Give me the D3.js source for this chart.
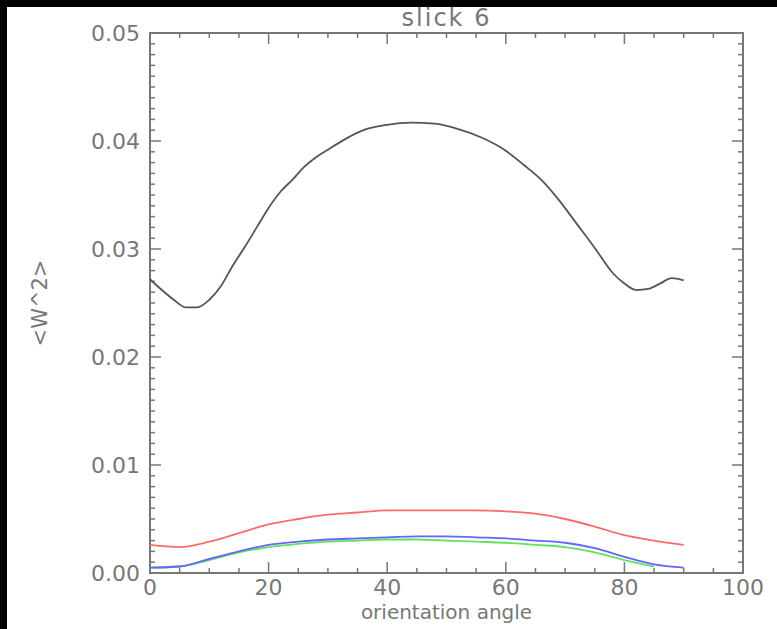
<!DOCTYPE html>
<html>
<head>
<meta charset="utf-8">
<script src="https://cdn.jsdelivr.net/npm/d3@7"></script>
<style>
  body { margin: 0; background: #000; }
  svg { display: block; }
</style>
</head>
<body>
<div class="chart"></div>
<script>
// chart values
const blackAngles = [0, 2, 4, 6, 8, 10, 12, 14, 16, 18, 20, 22, 24, 26, 28, 30, 33, 36, 40, 44, 48, 52, 56, 60, 63, 66, 69, 72, 75, 78, 80, 82, 84, 86, 88, 90];
const blackValues = [0.0272, 0.0262, 0.0253, 0.0246, 0.0246, 0.0253, 0.0266, 0.0285, 0.0302, 0.0320, 0.0338, 0.0353, 0.0364, 0.0376, 0.0385, 0.0392, 0.0402, 0.0410, 0.0415, 0.0417, 0.0416, 0.0411, 0.0403, 0.0391, 0.0378, 0.0364, 0.0345, 0.0323, 0.0301, 0.0278, 0.0268, 0.0262, 0.0263, 0.0268, 0.0273, 0.0271];

const angles = [0, 5, 10, 15, 20, 25, 30, 35, 40, 45, 50, 55, 60, 65, 70, 75, 80, 85, 90];
const redValues = [0.0026, 0.0024, 0.0029, 0.0037, 0.0045, 0.0050, 0.0054, 0.0056, 0.0058, 0.0058, 0.0058, 0.0058, 0.0057, 0.0055, 0.0050, 0.0043, 0.0035, 0.0030, 0.0026];
const blueValues = [0.0005, 0.0006, 0.0013, 0.0020, 0.0026, 0.0029, 0.0031, 0.0032, 0.0033, 0.0034, 0.0034, 0.0033, 0.0032, 0.0030, 0.0028, 0.0023, 0.0015, 0.0008, 0.0005];
const greenAngles = [0, 5, 10, 15, 20, 25, 30, 35, 40, 45, 50, 55, 60, 65, 70, 75, 80, 85];
const greenValues = [0.0005, 0.0006, 0.0012, 0.0019, 0.0024, 0.0027, 0.0029, 0.0030, 0.0031, 0.0031, 0.0030, 0.0029, 0.0028, 0.0026, 0.0024, 0.0019, 0.0012, 0.0006];

const xTicks = [0, 20, 40, 60, 80, 100];
const yTicks = [0, 0.01, 0.02, 0.03, 0.04, 0.05];

const W = 777, H = 629;
const margin = { top: 33, right: 34, bottom: 56, left: 150 };
const width = W - margin.left - margin.right;
const height = H - margin.top - margin.bottom;
const axisColor = "#777";
const font = "DejaVu Sans, sans-serif";

const svg = d3.select(".chart").append("svg")
    .attr("width", W)
    .attr("height", H);

// white page with black strips on top and left
svg.append("rect").attr("x", 7).attr("y", 7).attr("width", W - 7).attr("height", H - 7).attr("fill", "#fff");

const g = svg.append("g").attr("transform", `translate(${margin.left},${margin.top})`);

const x = d3.scaleLinear().domain([0, 100]).range([0, width]);
const y = d3.scaleLinear().domain([0, 0.05]).range([height, 0]);

// frame
g.append("rect")
    .attr("width", width).attr("height", height)
    .attr("fill", "none").attr("stroke", axisColor).attr("stroke-width", 2);

// ticks (inward on all four sides)
const xMinor = d3.range(0, 101, 5);
const yMinor = d3.range(0, 51, 1).map(d => d / 1000);

function isMajorX(d) { return d % 20 === 0; }
function isMajorY(d) { return Math.round(d * 1000) % 10 === 0; }

g.selectAll(".xtick-b").data(xMinor).enter().append("line")
    .attr("x1", d => x(d)).attr("x2", d => x(d))
    .attr("y1", height).attr("y2", d => height - (isMajorX(d) ? 11 : 5))
    .attr("stroke", axisColor).attr("stroke-width", 1.5);
g.selectAll(".xtick-t").data(xMinor).enter().append("line")
    .attr("x1", d => x(d)).attr("x2", d => x(d))
    .attr("y1", 0).attr("y2", d => isMajorX(d) ? 11 : 5)
    .attr("stroke", axisColor).attr("stroke-width", 1.5);
g.selectAll(".ytick-l").data(yMinor).enter().append("line")
    .attr("y1", d => y(d)).attr("y2", d => y(d))
    .attr("x1", 0).attr("x2", d => isMajorY(d) ? 11 : 5)
    .attr("stroke", axisColor).attr("stroke-width", 1.5);
g.selectAll(".ytick-r").data(yMinor).enter().append("line")
    .attr("y1", d => y(d)).attr("y2", d => y(d))
    .attr("x1", width).attr("x2", d => width - (isMajorY(d) ? 11 : 5))
    .attr("stroke", axisColor).attr("stroke-width", 1.5);

// tick labels
g.selectAll(".xlabel").data(xTicks).enter().append("text")
    .attr("x", d => x(d)).attr("y", height + 22)
    .attr("text-anchor", "middle")
    .attr("font-family", font).attr("font-size", 22).attr("fill", axisColor)
    .text(d => d);
g.selectAll(".ylabel").data(yTicks).enter().append("text")
    .attr("x", -10).attr("y", d => y(d) + 8)
    .attr("text-anchor", "end")
    .attr("font-family", font).attr("font-size", 22).attr("fill", axisColor)
    .text(d => d.toFixed(2));

// titles
svg.append("text")
    .attr("x", margin.left + width / 2).attr("y", 26)
    .attr("text-anchor", "middle")
    .attr("font-family", font).attr("font-size", 24).attr("letter-spacing", 2)
    .attr("fill", axisColor)
    .text("slick 6");
svg.append("text")
    .attr("x", margin.left + width / 2).attr("y", 619)
    .attr("text-anchor", "middle")
    .attr("font-family", font).attr("font-size", 20).attr("fill", axisColor)
    .text("orientation angle");
svg.append("text")
    .attr("transform", `translate(47,${margin.top + height / 2}) rotate(-90)`)
    .attr("text-anchor", "middle")
    .attr("font-family", font).attr("font-size", 21).attr("fill", axisColor)
    .text("<W^2>");

// curves
const line = d3.line().x(d => x(d[0])).y(d => y(d[1])).curve(d3.curveMonotoneX);

const series = [
    { a: angles, v: redValues, color: "#ff6b6b" },
    { a: greenAngles, v: greenValues, color: "#5fe35f" },
    { a: angles, v: blueValues, color: "#6464ff" },
    { a: blackAngles, v: blackValues, color: "#555" }
];

g.selectAll(".series").data(series).enter().append("path")
    .attr("fill", "none")
    .attr("stroke", d => d.color)
    .attr("stroke-width", 1.8)
    .attr("d", d => line(d.a.map((a, i) => [a, d.v[i]])));
</script>
</body>
</html>
